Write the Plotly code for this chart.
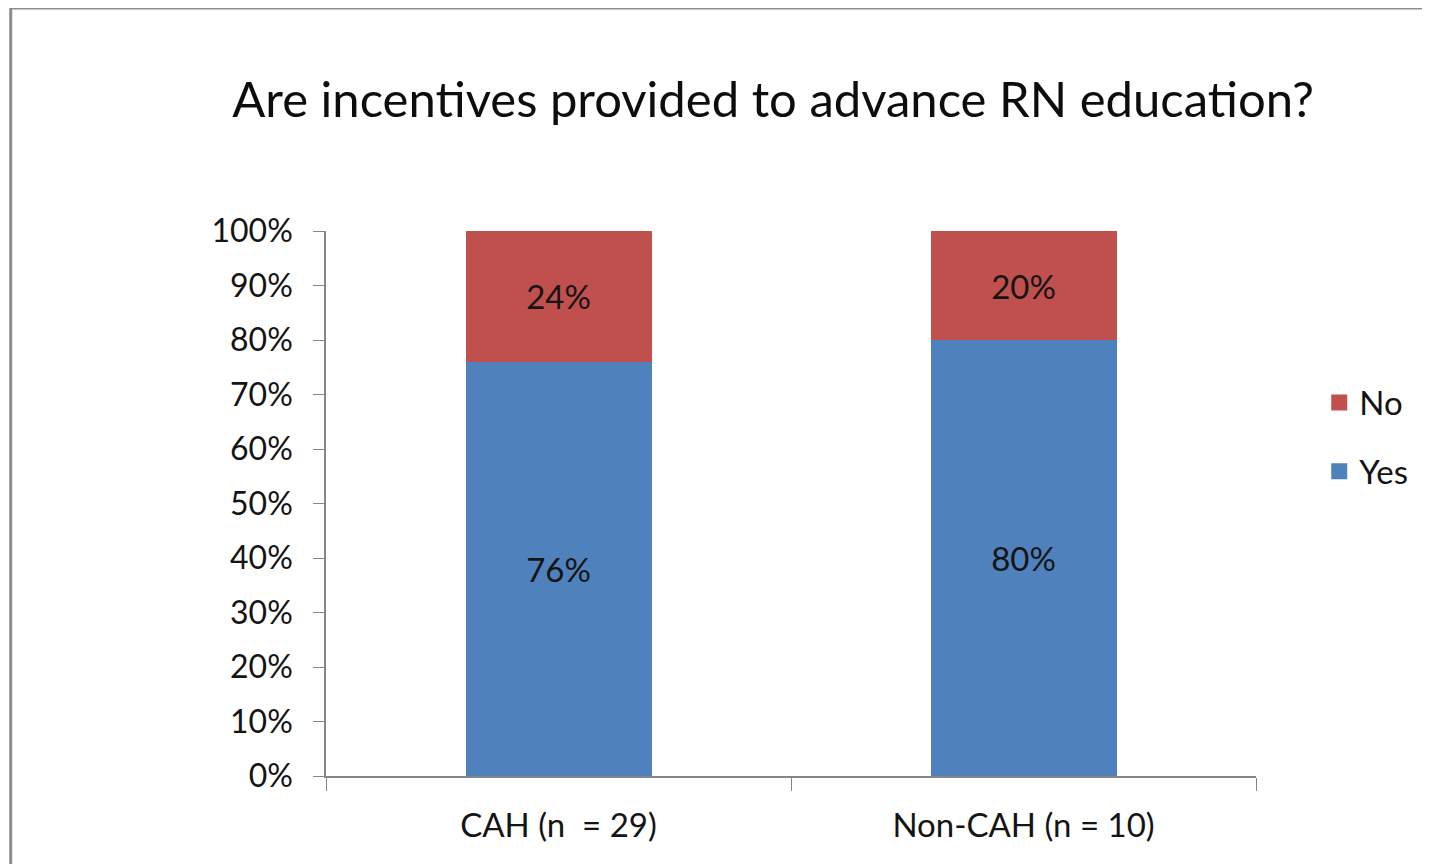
import plotly.graph_objects as go

# DATA
categories = ['CAH (n  = 29)', 'Non-CAH (n = 10)']
yes_pct = [76, 80]
no_pct = [24, 20]
y_ticks = [0, 10, 20, 30, 40, 50, 60, 70, 80, 90, 100]

BLUE = '#4F81BD'
RED = '#C0504D'
AXIS = '#868686'
FONT = 'Lato, Calibri, sans-serif'
TXT = '#141414'

fig = go.Figure()

fig.add_trace(go.Bar(
    x=categories, y=yes_pct, name='Yes', showlegend=False,
    marker=dict(color=BLUE, line=dict(width=0)),
    text=[f'{v}%' for v in yes_pct], textposition='inside',
    insidetextanchor='middle', textfont=dict(size=33, color=TXT, family=FONT),
))
fig.add_trace(go.Bar(
    x=categories, y=no_pct, name='No', showlegend=False,
    marker=dict(color=RED, line=dict(width=0)),
    text=[f'{v}%' for v in no_pct], textposition='inside',
    insidetextanchor='middle', textfont=dict(size=33, color=TXT, family=FONT),
))

# legend entries with bigger square swatches
for name, col, rank in [('No', RED, 1), ('Yes', BLUE, 2)]:
    fig.add_trace(go.Scatter(
        x=[None], y=[None], mode='markers', name=name, legendrank=rank,
        legendgroup=name,
        marker=dict(symbol='square', size=21, color=col),
    ))

fig.update_layout(
    barmode='stack',
    bargap=0.6,
    width=1430, height=864,
    paper_bgcolor='white', plot_bgcolor='white',
    font=dict(family=FONT, color=TXT),
    margin=dict(l=318, r=182, t=223, b=96),
    title=dict(text='Are incentives provided to advance RN education?',
               x=0.535, xanchor='center', y=0.894, yanchor='middle',
               font=dict(size=49, family=FONT, color='#0d0d0d')),
    uniformtext=dict(minsize=20, mode='show'),
    legend=dict(
        x=1.068, y=0.622, xanchor='left', yanchor='middle',
        traceorder='grouped', tracegroupgap=23,
        font=dict(size=33, family=FONT, color=TXT),
        itemwidth=30,
    ),
    xaxis=dict(
        showline=True, linecolor=AXIS, linewidth=1.5,
        ticks='outside', tickson='boundaries', ticklen=13, tickcolor=AXIS,
        tickfont=dict(size=33, family=FONT, color=TXT),
        ticklabelstandoff=20,
        showgrid=False,
    ),
    yaxis=dict(
        range=[0, 100], tickvals=y_ticks,
        ticktext=[f'{v}%' for v in y_ticks],
        showline=True, linecolor=AXIS, linewidth=1.5,
        ticks='outside', ticklen=11, tickcolor=AXIS,
        tickfont=dict(size=32, family=FONT, color=TXT),
        ticklabelstandoff=14,
        showgrid=False, zeroline=False,
    ),
)

# chart border, clipped on the right and bottom as in the original
fig.add_shape(type='rect', xref='paper', yref='paper',
              x0=-0.339, x1=1.3, y0=-0.3, y1=1.409,
              line=dict(color='#8c8c8c', width=3), fillcolor='rgba(0,0,0,0)')

fig.write_html('out.html')
